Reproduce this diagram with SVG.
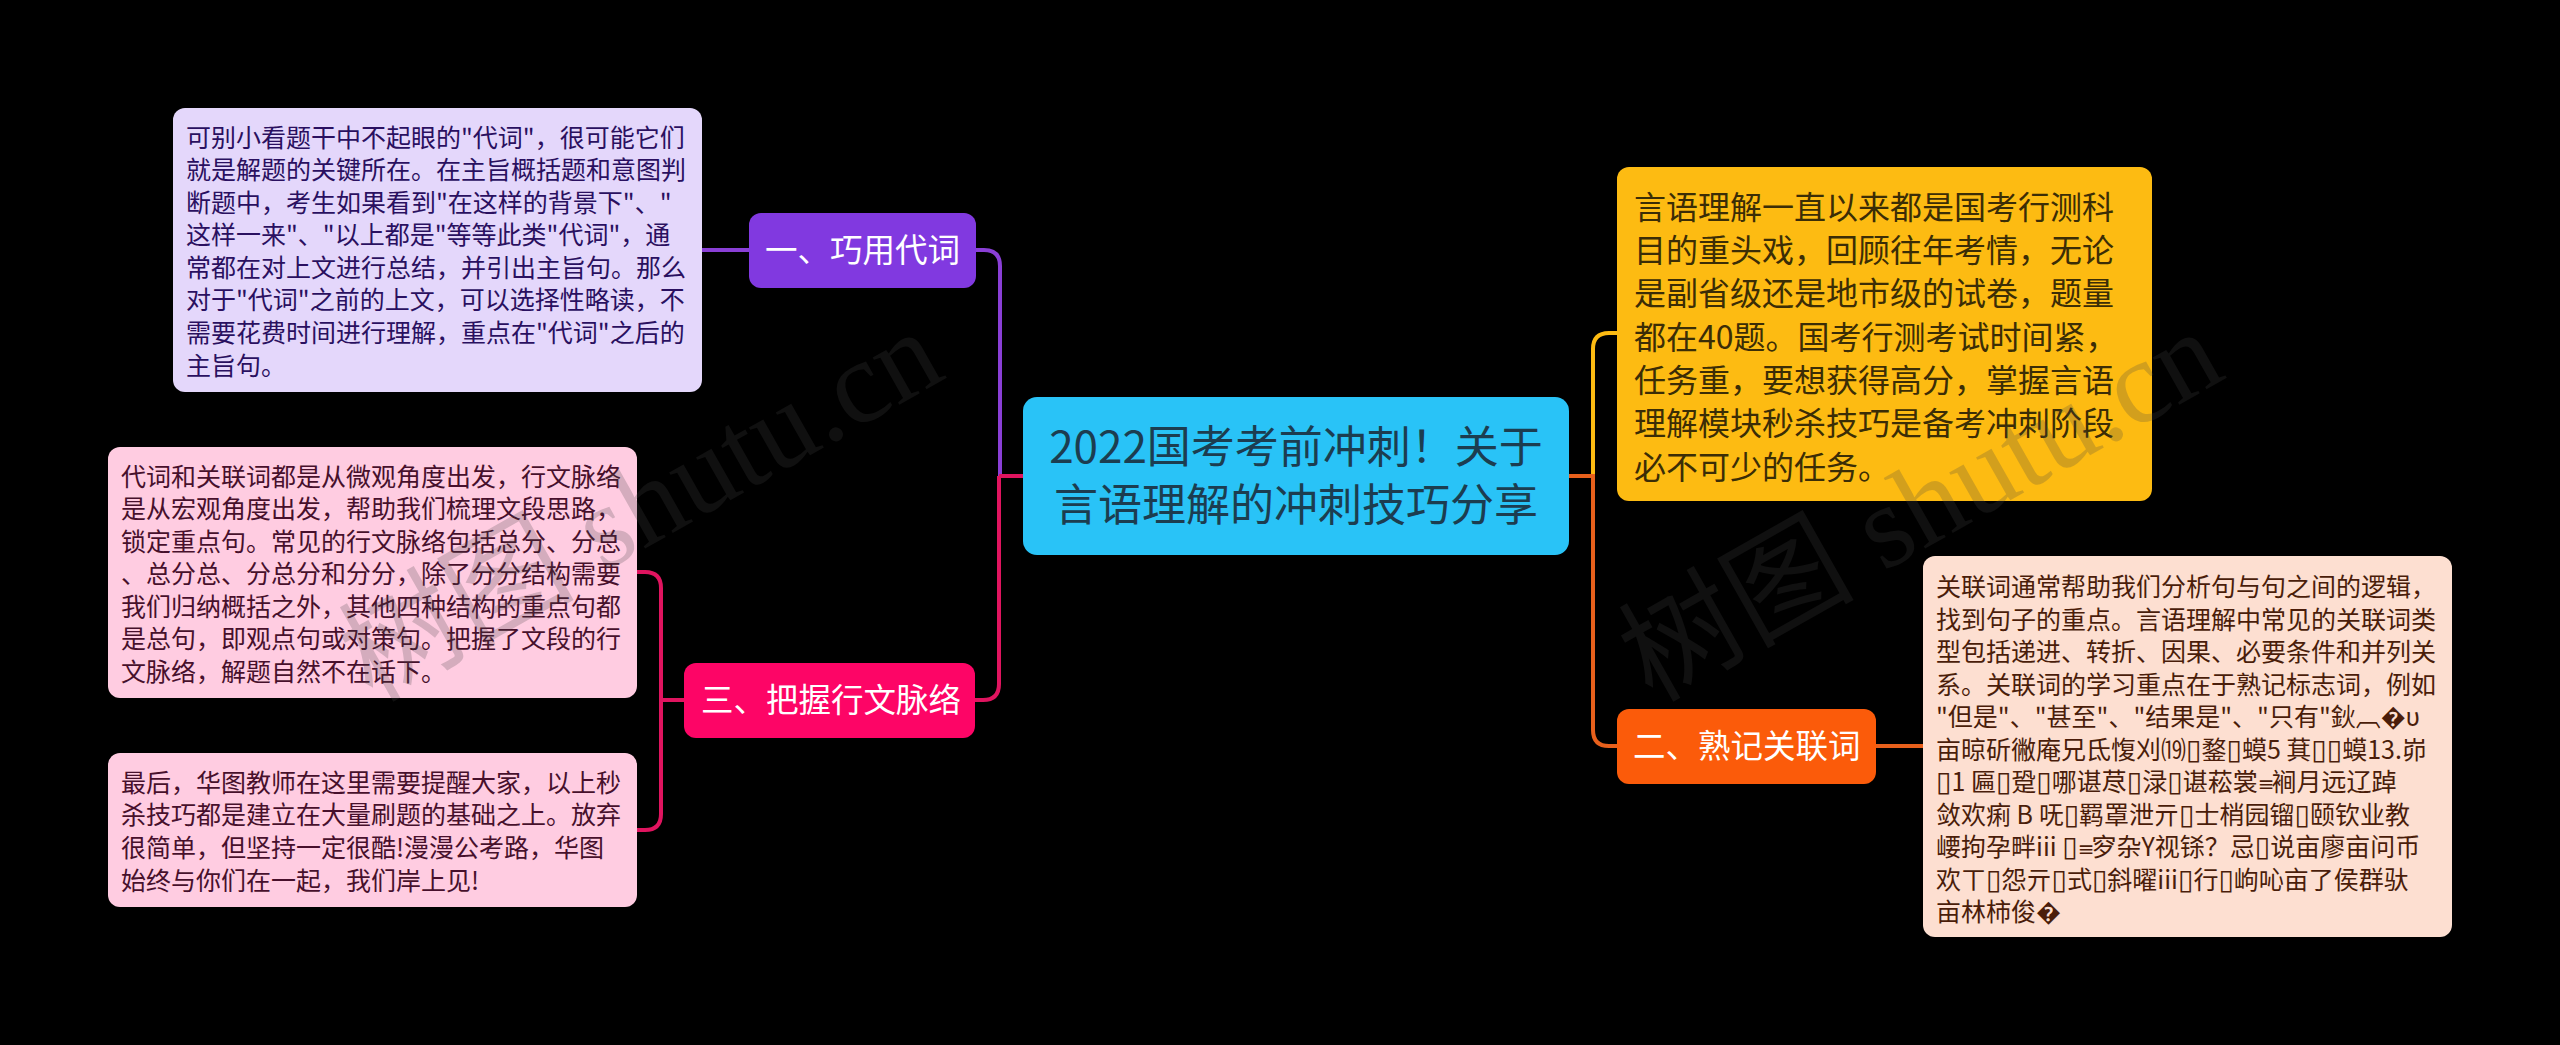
<svg xmlns="http://www.w3.org/2000/svg" width="2560" height="1045" viewBox="0 0 2560 1045">
<style>
text{font-family:"Noto Sans CJK SC","Noto Sans",sans-serif;white-space:pre}
.c{fill:none;stroke-width:4}
.d{font-size:25px}
.y{font-size:32px;fill:#3b2d06}
.b{font-size:32.5px;fill:#fff}
.m{font-size:44px;fill:#1c3d50;text-anchor:middle}
.t{font-family:"DejaVu Sans",sans-serif;font-size:28px}
.e{font-family:"DejaVu Sans",sans-serif;letter-spacing:-3px;font-size:20px}
.wm{font-family:"Liberation Serif","Noto Sans CJK SC",serif;font-size:118px;fill:#464646;fill-opacity:.23}
</style>
<rect width="2560" height="1045" fill="#000"/>
<g id="connectors">
<path class="c" stroke="#8a3fd6" d="M702 250H749M976 250H984Q1000 250 1000 266V476"/>
<path class="c" stroke="#e0145f" d="M1023 476H999M999 476V684Q999 700 983 700H975M684 700H661M637 572H645Q661 572 661 588V814Q661 830 645 830H637"/>
<path class="c" stroke="#fdbb12" d="M1593 476V349Q1593 333 1609 333H1617"/>
<path class="c" stroke="#e8601c" d="M1569 476H1593V730Q1593 746 1609 746H1617M1876 746H1923"/>
</g>
<g id="root">
<rect x="1023" y="397" width="546" height="158" rx="14" fill="#29c3f7"/>
<text class="m" x="1296" y="463">2022国考考前冲刺&#65281;关于</text>
<text class="m" x="1296" y="521">言语理解的冲刺技巧分享</text>
</g>
<g id="branch-1">
<rect x="749" y="213" width="227" height="75" rx="12" fill="#8139e0"/>
<text class="b" x="765" y="262">一、巧用代词</text>
</g>
<g id="detail-1" fill="#2a1060">
<rect x="173" y="108" width="529" height="284" rx="12" fill="#e4d7fb"/>
<g class="d">
<text x="186" y="147">可别小看题干中不起眼的"代词"&#65292;很可能它们</text>
<text x="186" y="179">就是解题的关键所在。在主旨概括题和意图判</text>
<text x="186" y="212">断题中&#65292;考生如果看到"在这样的背景下"、"</text>
<text x="186" y="244">这样一来"、"以上都是"等等此类"代词"&#65292;通</text>
<text x="186" y="277">常都在对上文进行总结&#65292;并引出主旨句。那么</text>
<text x="186" y="309">对于"代词"之前的上文&#65292;可以选择性略读&#65292;不</text>
<text x="186" y="342">需要花费时间进行理解&#65292;重点在"代词"之后的</text>
<text x="186" y="375">主旨句。</text>
</g>
</g>
<g id="branch-3">
<rect x="684" y="663" width="291" height="75" rx="12" fill="#fd0566"/>
<text class="b" x="701" y="712">三、把握行文脉络</text>
</g>
<g id="detail-3a" fill="#47102c">
<rect x="108" y="447" width="529" height="251" rx="12" fill="#ffcce1"/>
<g class="d">
<text x="121" y="486">代词和关联词都是从微观角度出发&#65292;行文脉络</text>
<text x="121" y="518">是从宏观角度出发&#65292;帮助我们梳理文段思路&#65292;</text>
<text x="121" y="551">锁定重点句。常见的行文脉络包括总分、分总</text>
<text x="121" y="583">、总分总、分总分和分分&#65292;除了分分结构需要</text>
<text x="121" y="616">我们归纳概括之外&#65292;其他四种结构的重点句都</text>
<text x="121" y="648">是总句&#65292;即观点句或对策句。把握了文段的行</text>
<text x="121" y="681">文脉络&#65292;解题自然不在话下。</text>
</g>
</g>
<g id="detail-3b" fill="#47102c">
<rect x="108" y="753" width="529" height="154" rx="12" fill="#ffcce1"/>
<g class="d">
<text x="121" y="792">最后&#65292;华图教师在这里需要提醒大家&#65292;以上秒</text>
<text x="121" y="824">杀技巧都是建立在大量刷题的基础之上。放弃</text>
<text x="121" y="857">很简单&#65292;但坚持一定很酷!漫漫公考路&#65292;华图</text>
<text x="121" y="890">始终与你们在一起&#65292;我们岸上见!</text>
</g>
</g>
<g id="detail-top">
<rect x="1617" y="167" width="535" height="334" rx="12" fill="#fdbb12"/>
<text class="y" x="1634" y="219">言语理解一直以来都是国考行测科</text>
<text class="y" x="1634" y="262">目的重头戏&#65292;回顾往年考情&#65292;无论</text>
<text class="y" x="1634" y="305">是副省级还是地市级的试卷&#65292;题量</text>
<text class="y" x="1634" y="349">都在40题。国考行测考试时间紧&#65292;</text>
<text class="y" x="1634" y="392">任务重&#65292;要想获得高分&#65292;掌握言语</text>
<text class="y" x="1634" y="435">理解模块秒杀技巧是备考冲刺阶段</text>
<text class="y" x="1634" y="479">必不可少的任务。</text>
</g>
<g id="branch-2">
<rect x="1617" y="709" width="259" height="75" rx="12" fill="#fb5b0a"/>
<text class="b" x="1633" y="758">二、熟记关联词</text>
</g>
<g id="detail-2" fill="#4a1d0a">
<rect x="1923" y="556" width="529" height="381" rx="12" fill="#fddfd1"/>
<g class="d">
<text x="1936" y="596">关联词通常帮助我们分析句与句之间的逻辑&#65292;</text>
<text x="1936" y="629">找到句子的重点。言语理解中常见的关联词类</text>
<text x="1936" y="661">型包括递进、转折、因果、必要条件和并列关</text>
<text x="1936" y="694">系。关联词的学习重点在于熟记标志词&#65292;例如</text>
<text x="1936" y="726">"但是"、"甚至"、"结果是"、"只有"鈥︹�υ</text>
<text x="1936" y="759">亩晾斫徶庵兄氐愎刈⒆<tspan class="t">▯</tspan>鍪<tspan class="t">▯</tspan>蟆5 萁<tspan class="t">▯▯</tspan>蟆13.峁</text>
<text x="1936" y="791"><tspan class="t">▯</tspan>1 匾<tspan class="t">▯</tspan>跫<tspan class="t">▯</tspan>哪谌荩<tspan class="t">▯</tspan>渌<tspan class="t">▯</tspan>谌菘裳<tspan class="e">≡</tspan>裥月远辽踔</text>
<text x="1936" y="824">敛欢痢 B 呒<tspan class="t">▯</tspan>羁罩泄亓<tspan class="t">▯</tspan>士梢园镏<tspan class="t">▯</tspan>颐钦业教</text>
<text x="1936" y="856">崾拘孕畔iii <tspan class="t">▯</tspan><tspan class="e">≡</tspan>穸杂Y视铩&#65311;忌<tspan class="t">▯</tspan>说亩廖亩问币</text>
<text x="1936" y="889">欢ㄒ<tspan class="t">▯</tspan>怨亓<tspan class="t">▯</tspan>式<tspan class="t">▯</tspan>斜曜iii<tspan class="t">▯</tspan>行<tspan class="t">▯</tspan>岣吣亩了侯群驮</text>
<text x="1936" y="921">亩林柿俊�</text>
</g>
</g>
<g id="watermark">
<text class="wm" transform="translate(372 703) rotate(-29.5)">树图 shutu.cn</text>
<text class="wm" transform="translate(1652 703) rotate(-29.5)">树图 shutu.cn</text>
</g>
</svg>
